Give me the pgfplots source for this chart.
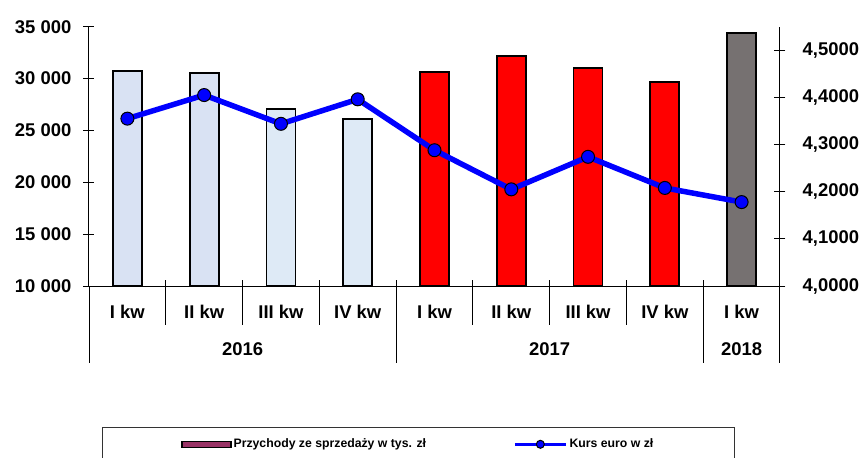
\documentclass[border=0pt]{standalone}
\usepackage{fontspec}
\setmainfont{Liberation Sans}
\usepackage{pgfplots}
\pgfplotsset{compat=1.18}
\definecolor{barA}{RGB}{217,226,243}
\definecolor{barB}{RGB}{222,234,246}
\definecolor{barRed}{RGB}{255,0,0}
\definecolor{barGray}{RGB}{118,113,113}
\definecolor{legMaroon}{RGB}{153,51,102}
\newcommand{\lbl}{\bfseries\fontsize{18.5}{20}\selectfont}
\begin{document}
\begin{tikzpicture}
% --- bars (left axis)
\begin{axis}[
  name=bars,
  at={(0,0)}, anchor=south west,
  scale only axis, width=691bp, height=259.3bp,
  xmin=-0.5, xmax=8.5, ymin=10000, ymax=35000,
  axis x line*=bottom, axis y line*=left,
  axis line style={black, line width=1bp},
  scaled y ticks=false,
  ytick={10000,15000,20000,25000,30000,35000},
  yticklabels={10 000,15 000,20 000,25 000,30 000,35 000},
  yticklabel style={font=\lbl, anchor=east, inner sep=0pt, xshift=-12bp},
  tick align=center, major tick length=11bp,
  tick style={black, line width=1bp},
  xtick={0,1,2,3,4,5,6,7,8},
  xticklabels={I kw,II kw,III kw,IV kw,I kw,II kw,III kw,IV kw,I kw},
  xtick style={draw=none},
  xticklabel style={font=\lbl, anchor=center, inner sep=0pt, yshift=-14.5bp},
  ybar, bar width=29bp, bar shift=0pt,
]
\addplot[fill=barA, draw=black, line width=1.8bp] coordinates {(0,30700) (1,30500)};
\addplot[fill=barB, draw=black, line width=1.8bp] coordinates {(2,27100) (3,26100)};
\addplot[fill=barRed, draw=black, line width=1.8bp] coordinates {(4,30600) (5,32200) (6,31000) (7,29700)};
\addplot[fill=barGray, draw=black, line width=1.8bp] coordinates {(8,34400)};
\end{axis}
% --- euro rate (right axis)
\begin{axis}[
  at={(bars.south west)}, anchor=south west,
  scale only axis, width=691bp, height=259.3bp,
  xmin=-0.5, xmax=8.5, ymin=4.0, ymax=4.55,
  axis x line=none, axis y line*=right,
  axis line style={black, line width=1bp},
  ytick={4.0,4.1,4.2,4.3,4.4,4.5},
  yticklabels={{4,0000},{4,1000},{4,2000},{4,3000},{4,4000},{4,5000}},
  yticklabel style={font=\lbl, anchor=west, inner sep=0pt, xshift=17bp},
  tick align=center, major tick length=11bp,
  tick style={black, line width=1bp},
  clip=false,
  legend style={at={(0.01838,-0.5426)}, anchor=north west,
    draw=black!80, line width=0.8bp, fill=white,
    legend columns=2,
    font=\bfseries\fontsize{12.3}{14}\selectfont,
    inner xsep=79bp, inner ysep=11bp,
    nodes={inner xsep=2bp, inner ysep=1bp},
    /tikz/column 2/.style={column sep=85bp}},
]
\addlegendimage{legend image code/.code={\draw[fill=legMaroon, draw=black, line width=1.5bp] (0bp,-3bp) rectangle (49bp,3bp);}}
\addlegendentry{Przychody ze sprzedaży w tys. zł}
\addlegendimage{legend image code/.code={\draw[blue, line width=3.5bp] (0bp,0bp) -- (51bp,0bp); \draw[fill=blue, draw=black, line width=1bp] (25.5bp,0bp) circle (4bp);}}
\addlegendentry{Kurs euro w zł}
\addplot[blue, line width=5.5bp, mark=*, mark size=6.5bp,
  mark options={fill=blue, draw=black, line width=1bp}, forget plot]
  coordinates {(0,4.355) (1,4.405) (2,4.344) (3,4.396) (4,4.288) (5,4.205) (6,4.274) (7,4.208) (8,4.178)};
% category separators
\draw[black, line width=1bp] (axis cs:-0.5,4) -- ++(0bp,-77bp);
\draw[black, line width=1bp] (axis cs:0.5,4) ++(0bp,6bp) -- ++(0bp,-45bp);
\draw[black, line width=1bp] (axis cs:1.5,4) ++(0bp,6bp) -- ++(0bp,-45bp);
\draw[black, line width=1bp] (axis cs:2.5,4) ++(0bp,6bp) -- ++(0bp,-45bp);
\draw[black, line width=1bp] (axis cs:3.5,4) ++(0bp,6bp) -- ++(0bp,-83bp);
\draw[black, line width=1bp] (axis cs:4.5,4) ++(0bp,6bp) -- ++(0bp,-45bp);
\draw[black, line width=1bp] (axis cs:5.5,4) ++(0bp,6bp) -- ++(0bp,-45bp);
\draw[black, line width=1bp] (axis cs:6.5,4) ++(0bp,6bp) -- ++(0bp,-45bp);
\draw[black, line width=1bp] (axis cs:7.5,4) ++(0bp,6bp) -- ++(0bp,-83bp);
\draw[black, line width=1bp] (axis cs:8.5,4) ++(0bp,6bp) -- ++(0bp,-83bp);
\node[font=\lbl, inner sep=0pt] at ([yshift=-63bp]axis cs:1.5,4) {2016};
\node[font=\lbl, inner sep=0pt] at ([yshift=-63bp]axis cs:5.5,4) {2017};
\node[font=\lbl, inner sep=0pt] at ([yshift=-63bp]axis cs:8,4) {2018};
\end{axis}
\pgfresetboundingbox
\path[use as bounding box] ([shift={(-89bp,-172bp)}]bars.south west) rectangle ++(865bp,458bp);
\end{tikzpicture}
\end{document}
